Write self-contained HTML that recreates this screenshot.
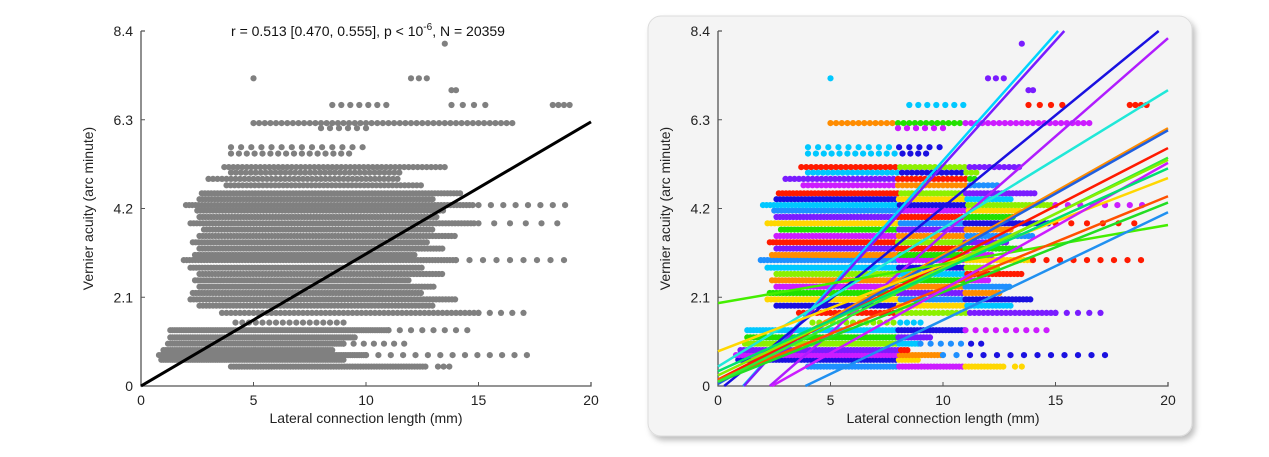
<!DOCTYPE html>
<html><head><meta charset="utf-8">
<style>
html,body{margin:0;padding:0;background:#fff;}
svg{display:block;font-family:"Liberation Sans",Arial,sans-serif;}
</style></head>
<body>
<svg id="chart" width="1269" height="457" viewBox="0 0 1269 457" xmlns="http://www.w3.org/2000/svg">
<defs>
<filter id="sh" x="-5%" y="-5%" width="115%" height="115%"><feDropShadow dx="3" dy="4" stdDeviation="3" flood-color="#000" flood-opacity="0.25"/></filter>
</defs>
<rect x="648" y="16" width="544" height="420" rx="13" fill="#f4f4f4" stroke="#dcdcdc" filter="url(#sh)"/>
<g id="left"></g>
<g id="right"></g>
<text x="368" y="36" font-size="14" text-anchor="middle" fill="#111">r = 0.513 [0.470, 0.555], p &lt; 10<tspan dy="-6" font-size="10">-6</tspan><tspan dy="6">, N = 20359</tspan></text>
</svg>
<script>
// ---- data ----
const xTicks = [0, 5, 10, 15, 20];
const yTicks = [0, 2.1, 4.2, 6.3, 8.4];
const yTickLabels = ["0", "2.1", "4.2", "6.3", "8.4"];
const xLabel = "Lateral connection length (mm)";
const yLabel = "Vernier acuity (arc minute)";
// rows of scatter: [y, xmin, xmax, step]
const leftRows = [
 [0.46,4.0,12.7,0.12],[0.46,13.2,13.7,0.25],[0.62,0.9,9.0,0.1],[0.73,0.8,10,0.1],[0.73,10,17.5,0.55],
 [0.85,1.0,8.5,0.1],[1.0,1.2,9.0,0.1],[1.0,9,12,0.45],[1.15,1.3,9.5,0.1],[1.32,1.3,11,0.1],[1.32,11,14.7,0.5],
 [1.5,4.2,9,0.3],[1.73,3.6,15,0.2],[1.73,15,17,0.5],[1.9,2.6,13,0.15],[2.05,2.2,14,0.14],
 [2.2,2.3,12.5,0.13],[2.35,2.6,13,0.13],[2.5,2.4,12,0.13],[2.65,2.6,13.5,0.14],[2.8,2.2,12.5,0.13],
 [2.98,1.9,14,0.13],[2.98,14,19.0,0.6],[3.1,2.4,12.2,0.13],[3.25,2.6,13.5,0.13],[3.4,2.3,12.8,0.13],
 [3.55,2.6,14,0.14],[3.7,2.8,13,0.13],[3.85,2.2,14.8,0.14],[3.85,15,18.5,0.7],[4.0,2.6,13.2,0.13],
 [4.15,2.5,13.5,0.14],[4.28,2.0,14.8,0.14],[4.28,15,19.0,0.55],[4.42,2.6,13,0.14],[4.56,2.7,14.2,0.14],
 [4.75,3.8,12.5,0.18],[4.9,3.0,11.5,0.2],[5.05,4.0,11.5,0.22],[5.18,3.7,13.5,0.2],[5.5,4.0,9.5,0.35],
 [5.65,4.0,10,0.45],[6.22,5.0,16.5,0.25],[6.1,8,10,0.4],[6.65,8.5,11.2,0.4],[6.65,13.8,15.5,0.5],[6.65,18.3,19.2,0.25],
 [7.0,13.8,14.0,0.2],[7.28,12.0,12.8,0.35],[7.28,5.0,5.0,1],[8.1,13.5,13.5,1]
];
const rightRows = [
 [0.46,4.0,12.7,0.14,5],[0.46,13.2,13.7,0.3,5],[0.62,0.9,9.0,0.14,9],[0.73,0.8,10,0.14,8],[0.73,10,17.5,0.6,2],
 [0.85,1.0,8.5,0.14,7],[1.0,1.2,9.0,0.14,3],[1.0,9,12,0.45,2],[1.15,1.3,9.5,0.14,4],[1.32,1.3,11,0.14,6],[1.32,11,14.7,0.45,1],
 [1.5,4.2,9,0.3,3],[1.73,3.6,15,0.2,0],[1.73,15,17,0.5,0],[1.9,2.6,13,0.16,9],[2.05,2.2,14,0.16,2],
 [2.2,2.3,12.5,0.15,4],[2.35,2.6,13,0.15,8],[2.5,2.4,12,0.15,1],[2.65,2.6,13.5,0.16,3],[2.8,2.2,12.5,0.15,6],
 [2.98,1.9,14,0.15,5],[2.98,14,19.0,0.6,3],[3.1,2.4,12.2,0.15,1],[3.25,2.6,13.5,0.15,7],[3.4,2.3,12.8,0.15,0],
 [3.55,2.6,14,0.16,8],[3.7,2.8,13,0.15,4],[3.85,2.2,14.8,0.16,2],[3.85,15,18.5,0.7,3],[4.0,2.6,13.2,0.15,7],
 [4.15,2.5,13.5,0.16,5],[4.28,2.0,14.8,0.16,6],[4.28,15,19.0,0.55,1],[4.42,2.6,13,0.16,9],[4.56,2.7,14.2,0.16,0],
 [4.75,3.8,12.5,0.2,8],[4.9,3.0,11.5,0.2,7],[5.05,4.0,11.5,0.22,6],[5.18,3.7,13.5,0.22,0],[5.5,4.0,9.5,0.35,6],
 [5.65,4.0,10,0.45,6],[6.22,5.0,16.5,0.25,1],[6.1,8,10,0.4,5],[6.65,8.5,11.2,0.4,3],[6.65,13.8,15.5,0.5,3],[6.65,18.3,19.2,0.25,3],
 [7.0,13.8,14.0,0.2,0],[7.28,12.0,12.8,0.35,0],[7.28,5.0,5.0,1,6],[8.1,13.5,13.5,1,0]
];
const palette = ["#ff1a00","#ff8c00","#ffd700","#8cf000","#22e000","#1e90ff","#00c8ff","#7a1cff","#cc1cff","#1a10e0"];
const leftFitSlope = 0.3125, leftFitIntercept = 0;
// fit lines: [intercept, slope, colour]
const fitIntercepts = [-0.67,-0.68,-0.12,-1.07,0.46,0.1,0.05,0.15,0.82,1.96,0.15,0.1,-0.99,-0.72,0.1,0.25,0.35];
const fitSlopes = [0.6,0.59,0.435,0.465,0.327,0.3,0.3,0.274,0.205,0.0925,0.217,0.212,0.255,0.3,0.265,0.255,0.24];
const fitColors = ["#00d4ff","#7a1cff","#1a10e0","#b01cff","#20e8d8","#ff8c00","#2060e0","#ff1a00","#ffd700","#44ee00","#ff5000","#22dd22","#2090f0","#cc1cff","#33ee33","#88ee00","#00e070"];

const NS = "http://www.w3.org/2000/svg";
function mk(tag, attrs, parent){const e=document.createElementNS(NS,tag);for(const k in attrs)e.setAttribute(k,attrs[k]);parent.appendChild(e);return e;}

function drawAxes(g, x0, name){
  const X = v => x0 + v/20*450;
  const Y = v => 386 - v/8.4*355;
  const ax = mk('path',{d:`M${X(0)} ${Y(8.4)} H${X(0)+4} M${X(0)} ${Y(8.4)} V${Y(0)} H${X(20)} V${Y(0)-4}`,stroke:'#555',fill:'none','stroke-width':1.3},g);
  
  
  xTicks.forEach(t=>{
    const l=mk('line',{x1:X(t),x2:X(t),y1:Y(0),y2:Y(0)-4,stroke:'#555'},g);
    
    
    const tx=mk('text',{x:X(t),y:405,'font-size':14,'text-anchor':'middle',fill:'#222'},g);
    tx.textContent=t;
    
    
  });
  yTicks.forEach((t,i)=>{
    const l=mk('line',{x1:X(0),x2:X(0)+4,y1:Y(t),y2:Y(t),stroke:'#555'},g);
    
    
    const tx=mk('text',{x:X(0)-8,y:Y(t)+5,'font-size':14,'text-anchor':'end',fill:'#222'},g);
    tx.textContent=yTickLabels[i];
    
    
  });
  const xl=mk('text',{x:X(10),y:423,'font-size':14,'text-anchor':'middle',fill:'#222'},g);
  xl.textContent=xLabel;
  
  
  const yl=mk('text',{x:0,y:0,'font-size':14,'text-anchor':'middle',fill:'#222',transform:`translate(${X(0)-48},${Y(4.2)}) rotate(-90)`},g);
  yl.textContent=yLabel;
  
  
  return {X,Y};
}

function drawRows(g, rows, X, Y, colorFn, name){
  const sg=mk('g',{},g);
  
  
  rows.forEach(r=>{
    for(let x=r[1]; x<=r[2]+1e-9; x+=r[3]){
      mk('circle',{cx:X(x).toFixed(1),cy:Y(r[0]).toFixed(1),r:3.1,fill:colorFn(r,x)},sg);
    }
  });
}

// left
const gl=document.getElementById('left');
const L=drawAxes(gl,141,'left');
drawRows(gl,leftRows,L.X,L.Y,()=>'#808080','left-scatter-points');
const fl=mk('line',{x1:L.X(0),y1:L.Y(leftFitIntercept),x2:L.X(20),y2:L.Y(leftFitIntercept+20*leftFitSlope),stroke:'#000','stroke-width':3},gl);



// right
const gr=document.getElementById('right');
const R=drawAxes(gr,718,'right');
drawRows(gr,rightRows,R.X,R.Y,(r,x)=>palette[(r[4]+(x>=8?3:0)+(x>=11?4:0))%10],'right-scatter-points');
const lg=mk('g',{},gr);


fitIntercepts.forEach((b,i)=>{
  const m=fitSlopes[i];
  let xa=0, xb=20;
  if(b<0) xa=-b/m;
  if(b+m*20>8.4) xb=(8.4-b)/m;
  const ln=mk('line',{x1:R.X(xa),y1:R.Y(b+m*xa),x2:R.X(xb),y2:R.Y(b+m*xb),stroke:fitColors[i],'stroke-width':2.5},lg);
  
  
});
</script>
</body></html>
